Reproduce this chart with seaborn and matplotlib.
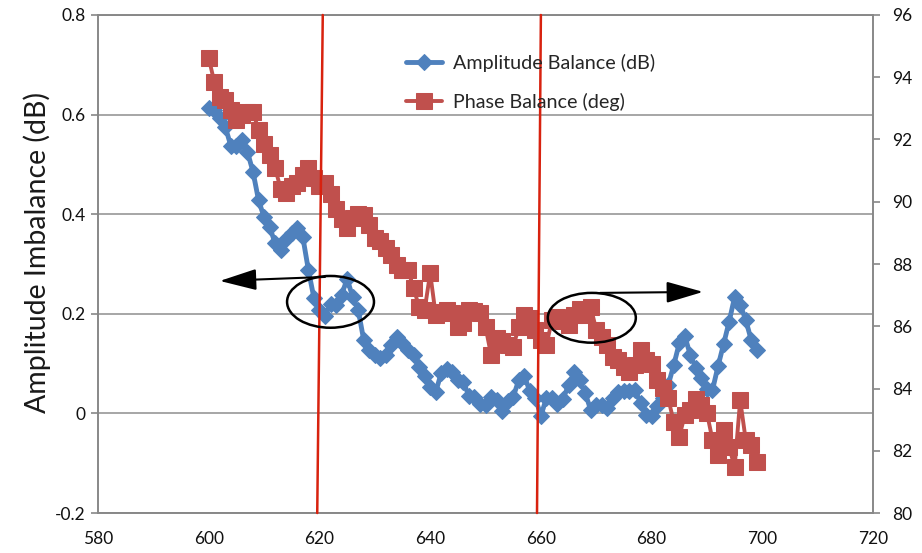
import numpy as np
import pandas as pd
import matplotlib
matplotlib.use("Agg")
import matplotlib.pyplot as plt
from matplotlib.patches import Ellipse
import seaborn as sns

# ---------------- data ----------------
freq = np.arange(600, 700)

amplitude_db = [
    0.613, 0.609, 0.593, 0.575, 0.537, 0.537, 0.549, 0.525, 0.485, 0.428,
    0.394, 0.374, 0.342, 0.328, 0.350, 0.362, 0.372, 0.354, 0.288, 0.232,
    0.208, 0.195, 0.220, 0.218, 0.238, 0.270, 0.234, 0.208, 0.147, 0.127,
    0.117, 0.111, 0.117, 0.137, 0.153, 0.141, 0.127, 0.117, 0.093, 0.075,
    0.053, 0.043, 0.081, 0.089, 0.083, 0.067, 0.063, 0.035, 0.033, 0.019,
    0.017, 0.033, 0.027, 0.005, 0.025, 0.033, 0.067, 0.075, 0.045, 0.031,
    -0.005, 0.031, 0.031, 0.019, 0.029, 0.057, 0.083, 0.067, 0.041, 0.007,
    0.017, 0.017, 0.011, 0.031, 0.043, 0.045, 0.045, 0.047, 0.021, -0.003,
    -0.005, 0.015, 0.031, 0.057, 0.097, 0.141, 0.155, 0.117, 0.091, 0.071,
    0.049, 0.047, 0.095, 0.139, 0.184, 0.234, 0.218, 0.188, 0.147, 0.127,
]

phase_deg = [
    94.62, 93.85, 93.37, 93.27, 92.95, 92.63, 92.79, 92.88, 92.88, 92.31,
    91.86, 91.50, 91.08, 90.41, 90.28, 90.51, 90.60, 90.86, 91.08, 90.76,
    90.51, 90.60, 90.25, 89.77, 89.45, 89.16, 89.48, 89.61, 89.57, 89.25,
    88.84, 88.74, 88.51, 88.29, 87.98, 87.81, 87.81, 87.23, 86.62, 86.52,
    87.71, 86.36, 86.46, 86.52, 86.43, 85.98, 86.10, 86.52, 86.49, 86.43,
    85.98, 85.08, 85.62, 85.53, 85.40, 85.33, 85.98, 86.36, 86.27, 85.88,
    85.56, 85.40, 86.20, 86.30, 86.17, 86.04, 86.36, 86.55, 86.36, 86.62,
    85.88, 85.65, 85.40, 85.01, 84.92, 84.69, 84.53, 84.76, 85.24, 84.92,
    84.79, 84.27, 84.02, 83.69, 82.92, 82.45, 83.15, 83.31, 83.66, 83.47,
    83.21, 82.35, 81.86, 82.67, 82.12, 81.48, 83.63, 82.35, 82.19, 81.64,
]

series_labels = ["Amplitude Balance (dB)", "Phase Balance (deg)"]
y_label = "Amplitude Imbalance (dB)"
x_ticks = [580, 600, 620, 640, 660, 680, 700, 720]
left_ticks = [-0.2, 0, 0.2, 0.4, 0.6, 0.8]
left_tick_labels = ["-0.2", "0", "0.2", "0.4", "0.6", "0.8"]
right_ticks = [80, 82, 84, 86, 88, 90, 92, 94, 96]

# annotation geometry (x in MHz, y in left-axis units)
marker_lines = [((620.6, 0.8), (619.6, -0.2)), ((660.0, 0.8), (659.3, -0.2))]
ellipses = [((622.0, 0.224), 15.7, 0.104), ((669.2, 0.192), 15.9, 0.100)]
arrows = [((621.0, 0.274), (602.0, 0.266)), ((670.7, 0.242), (689.3, 0.244))]

df = pd.DataFrame({"freq": freq, "amp": amplitude_db, "phase": phase_deg})

# ---------------- style ----------------
sns.set_theme(style="white")
plt.rcParams["font.family"] = ["Lato", "DejaVu Sans"]

BLUE = "#4F81BD"
RED = "#C0504D"
VLINE = "#D8220F"
GRID = "#A6A6A6"
SPINE = "#888888"

fig = plt.figure(figsize=(9.22, 5.53), dpi=100)
ax = fig.add_subplot(111)
fig.subplots_adjust(left=0.1063, right=0.9469, top=0.9729, bottom=0.0723)
ax2 = ax.twinx()

sns.lineplot(data=df, x="freq", y="amp", ax=ax, color=BLUE, linewidth=3.5,
             marker="D", markersize=8.5, markeredgecolor=BLUE,
             markerfacecolor=BLUE, label=series_labels[0], legend=False)
sns.lineplot(data=df, x="freq", y="phase", ax=ax2, color=RED, linewidth=2.8,
             marker="s", markersize=11.5, markeredgecolor=RED,
             markerfacecolor=RED, label=series_labels[1], legend=False)

ax.set_xlim(580, 720)
ax.set_ylim(-0.2, 0.8)
ax2.set_ylim(80, 96)
ax.set_xticks(x_ticks)
ax.set_xticklabels([str(t) for t in x_ticks])
ax.set_yticks(left_ticks)
ax.set_yticklabels(left_tick_labels)
ax2.set_yticks(right_ticks)
ax2.set_yticklabels([str(t) for t in right_ticks])

ax.set_xlabel("")
ax.set_ylabel(y_label, fontsize=20.5, color="#1a1a1a")
ax.yaxis.set_label_coords(-0.061, 0.524)
ax2.set_ylabel("")

ax.yaxis.grid(True, color=GRID, linewidth=1.4)
ax.xaxis.grid(False)
ax2.grid(False)
ax.set_axisbelow(True)

for a in (ax, ax2):
    for s in a.spines.values():
        s.set_color(SPINE)
        s.set_linewidth(1.2)
    a.tick_params(axis="both", which="both", labelsize=12.5, length=5,
                  width=1.2, color=SPINE, labelcolor="#111111", direction="out")
ax.tick_params(axis="x", pad=8)
ax.tick_params(axis="y", pad=4)
ax2.tick_params(axis="y", pad=9)

# vertical red marker lines
for (x0, y0), (x1, y1) in marker_lines:
    ax2.plot([x0, x1], [y0, y1], transform=ax.transData, color=VLINE,
             linewidth=1.8, zorder=10, clip_on=False)

# ellipses
for (cx, cy), w, h in ellipses:
    ax2.add_patch(Ellipse((cx, cy), w, h, transform=ax.transData,
                          fill=False, edgecolor="black", linewidth=1.8, zorder=11))

# arrows
for start, end in arrows:
    ax2.annotate("", xy=end, xytext=start, xycoords=ax.transData,
                 textcoords=ax.transData,
                 arrowprops=dict(arrowstyle="-|>,head_length=1.9,head_width=0.55",
                                 color="black", linewidth=1.5,
                                 shrinkA=0, shrinkB=0), zorder=12)

# legend
h1, l1 = ax.get_legend_handles_labels()
h2, l2 = ax2.get_legend_handles_labels()
leg = ax2.legend(h1 + h2, l1 + l2, loc="upper left",
                 bbox_to_anchor=(406 / 922, 1 - 54 / 553),
                 bbox_transform=fig.transFigure, frameon=False,
                 fontsize=14.2, handlelength=1.8, handletextpad=0.6,
                 labelspacing=1.05, borderpad=0, borderaxespad=0)
leg.set_zorder(20)

fig.savefig("out.png", dpi=100)
